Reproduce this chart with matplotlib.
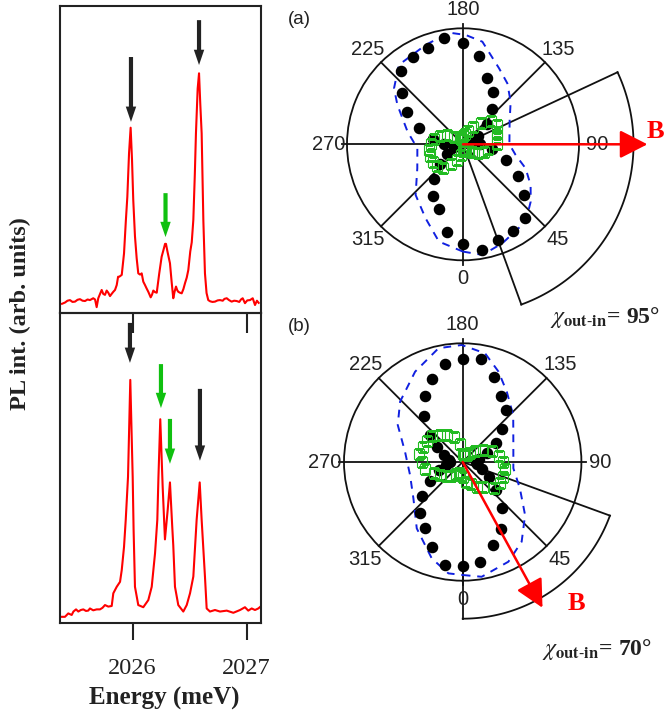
import matplotlib

matplotlib.use("Agg")
import matplotlib.pyplot as plt
import numpy as np

plt.rcParams.update({
    "font.family": "Liberation Serif",
    "mathtext.fontset": "stix",
    "axes.linewidth": 1.5,
})

# ---- PL spectra (energy in meV, intensity in arb. units, 0..1 of panel) ----
energy_a = [2025.380, 2025.406, 2025.428, 2025.450, 2025.472, 2025.494, 2025.516, 2025.538,
            2025.560, 2025.582, 2025.604, 2025.625, 2025.654, 2025.670, 2025.684, 2025.698,
            2025.728, 2025.742, 2025.757, 2025.772, 2025.786, 2025.801, 2025.815, 2025.830,
            2025.845, 2025.860, 2025.872, 2025.882, 2025.904, 2025.924, 2025.940, 2025.953,
            2025.968, 2025.982, 2025.994, 2026.005, 2026.020, 2026.035, 2026.049, 2026.065,
            2026.079, 2026.093, 2026.108, 2026.122, 2026.137, 2026.158, 2026.170, 2026.181,
            2026.196, 2026.211, 2026.233, 2026.254, 2026.270, 2026.284, 2026.292, 2026.305,
            2026.327, 2026.342, 2026.356, 2026.368, 2026.380, 2026.390, 2026.400, 2026.415,
            2026.430, 2026.445, 2026.459, 2026.474, 2026.488, 2026.505, 2026.518, 2026.532,
            2026.545, 2026.555, 2026.570, 2026.582, 2026.593, 2026.605, 2026.620, 2026.634,
            2026.648, 2026.663, 2026.680, 2026.700, 2026.722, 2026.745, 2026.766, 2026.790,
            2026.805, 2026.825, 2026.845, 2026.868, 2026.890, 2026.912, 2026.935, 2026.950,
            2026.965, 2026.985, 2027.005, 2027.029, 2027.053, 2027.073, 2027.090, 2027.105]
pl_a = [0.030, 0.034, 0.040, 0.042, 0.036, 0.037, 0.043, 0.045,
        0.040, 0.039, 0.044, 0.042, 0.048, 0.044, 0.019, 0.048,
        0.075, 0.062, 0.059, 0.073, 0.066, 0.055, 0.062, 0.069,
        0.075, 0.091, 0.118, 0.118, 0.124, 0.194, 0.300, 0.378,
        0.520, 0.603, 0.500, 0.368, 0.250, 0.178, 0.129, 0.125,
        0.129, 0.102, 0.091, 0.080, 0.069, 0.051, 0.060, 0.073,
        0.068, 0.066, 0.129, 0.183, 0.205, 0.225, 0.225, 0.200,
        0.162, 0.100, 0.048, 0.070, 0.086, 0.075, 0.069, 0.066,
        0.064, 0.078, 0.097, 0.115, 0.140, 0.200, 0.230, 0.303,
        0.450, 0.585, 0.730, 0.780, 0.680, 0.585, 0.300, 0.129,
        0.065, 0.042, 0.038, 0.036, 0.037, 0.041, 0.042, 0.040,
        0.046, 0.048, 0.042, 0.037, 0.040, 0.039, 0.036, 0.044,
        0.048, 0.032, 0.041, 0.042, 0.048, 0.026, 0.040, 0.033]

energy_b = [2025.380, 2025.406, 2025.435, 2025.465, 2025.480, 2025.503, 2025.523, 2025.545,
            2025.567, 2025.590, 2025.610, 2025.625, 2025.654, 2025.684, 2025.713, 2025.735,
            2025.757, 2025.786, 2025.816, 2025.830, 2025.860, 2025.889, 2025.904, 2025.924,
            2025.939, 2025.959, 2025.979, 2026.000, 2026.008, 2026.020, 2026.049, 2026.093,
            2026.137, 2026.167, 2026.196, 2026.216, 2026.226, 2026.242, 2026.263, 2026.283,
            2026.307, 2026.327, 2026.347, 2026.356, 2026.371, 2026.400, 2026.444, 2026.474,
            2026.503, 2026.532, 2026.561, 2026.588, 2026.605, 2026.634, 2026.649, 2026.678,
            2026.722, 2026.766, 2026.825, 2026.883, 2026.942, 2026.985, 2027.014, 2027.044,
            2027.073, 2027.102, 2027.115]
pl_b = [0.019, 0.019, 0.030, 0.025, 0.036, 0.043, 0.036, 0.041,
        0.043, 0.038, 0.039, 0.046, 0.040, 0.043, 0.043, 0.048,
        0.057, 0.052, 0.054, 0.095, 0.116, 0.132, 0.170, 0.245,
        0.332, 0.471, 0.784, 0.471, 0.300, 0.116, 0.057, 0.050,
        0.073, 0.116, 0.224, 0.332, 0.471, 0.657, 0.439, 0.269,
        0.364, 0.453, 0.310, 0.250, 0.116, 0.057, 0.036, 0.057,
        0.095, 0.149, 0.332, 0.453, 0.332, 0.149, 0.046, 0.036,
        0.041, 0.036, 0.039, 0.032, 0.041, 0.050, 0.039, 0.046,
        0.041, 0.046, 0.050]

# markers above the lines: energy, tail, tip, colour
arrow_e_a = [2025.985, 2026.288, 2026.582]
arrow_tail_a = [0.833, 0.390, 0.953]
arrow_tip_a = [0.622, 0.247, 0.807]
arrow_col_a = ["#222222", "#10c010", "#222222"]

arrow_e_b = [2025.976, 2026.248, 2026.327, 2026.590]
arrow_tail_b = [0.968, 0.835, 0.658, 0.755]
arrow_tip_b = [0.839, 0.693, 0.513, 0.523]
arrow_col_b = ["#222222", "#10c010", "#10c010", "#222222"]

# ---- polar data: angle in degrees, radius normalised to outer circle ----
angles = [0, 10, 20, 30, 40, 50, 60, 70, 80, 90, 100, 110, 120, 130, 140, 150, 160, 170,
          180, 190, 200, 210, 220, 230, 240, 250, 260, 270, 280, 290, 300, 310, 320, 330, 340, 350]

dots_a = [0.862, 0.928, 0.878, 0.860, 0.827, 0.683, 0.548, 0.397, 0.254, 0.150, 0.080, 0.080,
          0.150, 0.270, 0.392, 0.522, 0.606, 0.773, 0.871, 0.934, 0.883, 0.865, 0.830, 0.683,
          0.554, 0.400, 0.260, 0.160, 0.080, 0.080, 0.160, 0.264, 0.385, 0.519, 0.598, 0.770]
green_a = [0.06, 0.05, 0.05, 0.06, 0.08, 0.10, 0.15, 0.19, 0.22, 0.29, 0.30, 0.31,
           0.34, 0.31, 0.24, 0.17, 0.12, 0.09, 0.07, 0.05, 0.05, 0.06, 0.08, 0.10,
           0.16, 0.21, 0.25, 0.28, 0.30, 0.30, 0.30, 0.29, 0.27, 0.20, 0.14, 0.09]
fit_ang_a = [0, 10, 21.7, 39, 49.7, 59, 69, 78.5, 90, 116, 131.8, 144, 154.6, 169.3,
             178.6, 187.1, 200.6, 218.9, 230.9, 239, 257.2, 275, 297.7, 316.9, 333.2, 346.1, 360]
fit_r_a = [0.925, 0.968, 0.918, 0.858, 0.765, 0.680, 0.578, 0.463, 0.400, 0.447, 0.551, 0.650,
           0.725, 0.900, 0.943, 0.970, 0.915, 0.880, 0.766, 0.660, 0.490, 0.395, 0.445, 0.598,
           0.715, 0.864, 0.925]

dots_b = [0.874, 0.853, 0.741, 0.648, 0.510, 0.371, 0.260, 0.170, 0.120, 0.110, 0.140, 0.215,
          0.326, 0.437, 0.568, 0.638, 0.760, 0.878, 0.868, 0.839, 0.744, 0.643, 0.509, 0.357,
          0.254, 0.170, 0.120, 0.110, 0.140, 0.208, 0.319, 0.445, 0.566, 0.641, 0.765, 0.880]
green_b = [0.13, 0.17, 0.20, 0.24, 0.27, 0.34, 0.36, 0.36, 0.36, 0.34, 0.31, 0.26,
           0.20, 0.14, 0.10, 0.07, 0.06, 0.06, 0.07, 0.15, 0.22, 0.26, 0.30, 0.34,
           0.35, 0.36, 0.37, 0.34, 0.32, 0.26, 0.22, 0.18, 0.15, 0.12, 0.10, 0.11]
fit_ang_b = [0, 9.4, 24.6, 36.5, 49.6, 65.3, 82.9, 108.5, 132.8, 148, 158.5, 168.4, 180.5,
             192, 207.8, 226, 240.3, 259.8, 283.9, 306.4, 325.3, 342.2, 352.7, 360]
fit_r_b = [0.952, 0.980, 0.924, 0.835, 0.690, 0.530, 0.430, 0.450, 0.580, 0.700, 0.820, 0.935,
           0.986, 0.980, 0.860, 0.733, 0.630, 0.494, 0.457, 0.516, 0.680, 0.853, 0.946, 0.952]

# field direction and out-in sector (degrees), sector radius
b_angle = [90, 28.7]
b_length = [1.59, 1.40]
sector_from = [20, 0]
sector_to = [115, 70]
sector_r = [1.47, 1.32]
chi_values = [95, 70]

E_MIN, E_MAX = 2025.365, 2027.123
W, H = 664, 719
fig = plt.figure(figsize=(W / 100, H / 100), dpi=100)


def frac(x0, y0, x1, y1):
    return [x0 / W, 1 - y1 / H, (x1 - x0) / W, (y1 - y0) / H]


def spectrum(rect, energy, pl, ae, at, ap, ac):
    ax = fig.add_axes(rect)
    ax.patch.set_visible(False)
    ax.plot(energy, pl, color="#ff0000", lw=1.5, zorder=2)
    for e, t0, t1, c in zip(ae, at, ap, ac):
        ax.annotate("", xy=(e, t1), xytext=(e, t0),
                    arrowprops=dict(width=3.0, headwidth=7.5, headlength=11,
                                    facecolor=c, edgecolor="none", shrink=0),
                    annotation_clip=False, zorder=3)
    ax.set_xlim(E_MIN, E_MAX)
    ax.set_ylim(0, 1)
    ax.set_yticks([])
    ax.set_xticks([2026, 2027])
    for s in ax.spines.values():
        s.set_color("#222222")
    return ax


ax_top = spectrum(frac(60.3, 5.7, 260.7, 313), energy_a, pl_a,
                  arrow_e_a, arrow_tail_a, arrow_tip_a, arrow_col_a)
ax_top.tick_params(axis="x", direction="out", length=14.5, width=1.5,
                   color="#222222", labelbottom=False)
ax_bot = spectrum(frac(60.3, 313, 260.7, 622.7), energy_b, pl_b,
                  arrow_e_b, arrow_tail_b, arrow_tip_b, arrow_col_b)
ax_bot.tick_params(axis="x", direction="out", length=12.5, width=1.5, pad=13,
                   color="#222222", labelsize=17.5, labelcolor="#222222")
ax_top.set_zorder(3)

fig.text(164 / W, 1 - 698 / H, "Energy (meV)", ha="center", va="center",
         fontsize=18, fontweight="bold", color="#222222")
fig.text(20 / W, 1 - 314 / H, "PL int. (arb. units)", ha="center", va="center",
         rotation=90, fontsize=17.5, fontweight="bold", color="#222222")


def polar(rect, dots, green, fang, fr, k, label, label_xy, b_xy):
    ax = fig.add_axes(rect, projection="polar")
    ax.set_theta_zero_location("S")
    ax.set_theta_direction(1)
    ax.set_ylim(0, 1)
    ax.set_xticks([])
    ax.set_yticks([])
    ax.grid(False)
    ax.patch.set_visible(False)
    ax.spines["polar"].set_linewidth(1.3)
    ax.spines["polar"].set_color("#111111")
    for a in [0, 45, 90, 135, 180, 225, 270, 315]:
        rr = 1.04 if a % 90 == 0 else 1.0
        ax.plot([np.deg2rad(a)] * 2, [0, rr], color="#111111", lw=1.3,
                clip_on=False, zorder=1)
        ax.text(np.deg2rad(a), 1.16, str(a), ha="center", va="center",
                fontsize=14.5, family="Liberation Sans", color="#222222")
    # out-in sector
    s0, s1 = np.deg2rad(sector_from[k]), np.deg2rad(sector_to[k])
    ax.plot([s0, s0], [0, sector_r[k]], color="#111111", lw=1.3, clip_on=False, zorder=1)
    ax.plot([s1, s1], [0, sector_r[k]], color="#111111", lw=1.3, clip_on=False, zorder=1)
    th = np.linspace(s0, s1, 80)
    ax.plot(th, np.full_like(th, sector_r[k]), color="#111111", lw=1.3,
            clip_on=False, zorder=1)
    # data
    t = np.deg2rad(angles)
    ax.plot(np.deg2rad(fang), fr, ls=(0, (4, 3.5)), color="#1020e0", lw=1.4, zorder=2)
    ax.plot(t, dots, "o", color="black", ms=7.3, zorder=3, clip_on=False)
    ax.plot(t, green, "s", mfc="none", mec="#22bb22", mew=0.8, ms=7.2, zorder=4)
    # magnetic field
    ax.annotate("", xy=(np.deg2rad(b_angle[k]), b_length[k]), xytext=(0, 0),
                arrowprops=dict(arrowstyle="-|>,head_length=0.55,head_width=0.28",
                                mutation_scale=31, color="#ff0000", lw=1.8,
                                shrinkA=0, shrinkB=0),
                annotation_clip=False, zorder=5)
    fig.text(b_xy[0] / W, 1 - b_xy[1] / H, "B", ha="center", va="center",
             color="#ff0000", fontsize=19, fontweight="bold")
    fig.text(299 / W, 1 - label_xy / H, label, ha="center", va="center",
             fontsize=13.5, family="Liberation Sans", color="#222222")
    return ax


polar(frac(347, 28.3, 579, 260.3), dots_a, green_a, fit_ang_a, fit_r_a, 0,
      "(a)", 19, (655, 132))
polar(frac(344, 343.3, 581.4, 580.7), dots_b, green_b, fit_ang_b, fit_r_b, 1,
      "(b)", 327, (576, 603))

for (cx, cy), chi in zip([(605, 318), (597, 650)], chi_values):
    fig.text(cx / W, 1 - cy / H,
             r"$\chi_{\mathbf{out\text{-}in}}$" + f"= {chi}°",
             ha="center", va="center", fontsize=17, fontweight="bold", color="#222222")

fig.savefig("out.png", dpi=100)
